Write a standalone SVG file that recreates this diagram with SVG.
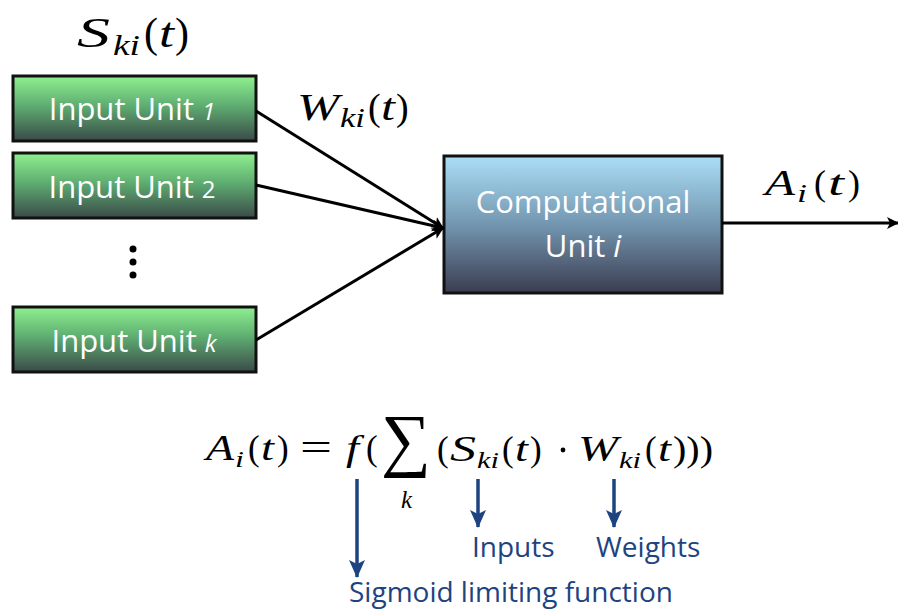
<svg xmlns="http://www.w3.org/2000/svg" width="898" height="614" viewBox="0 0 898 614">
<defs>
<linearGradient id="gGreen" x1="0" y1="0" x2="0" y2="1">
<stop offset="0" stop-color="#8ff08f"/>
<stop offset="0.45" stop-color="#5fae72"/>
<stop offset="1" stop-color="#3a4a48"/>
</linearGradient>
<linearGradient id="gBlue" x1="0" y1="0" x2="0" y2="1">
<stop offset="0" stop-color="#abdff7"/>
<stop offset="0.5" stop-color="#7396b0"/>
<stop offset="1" stop-color="#3b3c50"/>
</linearGradient>
<marker id="ah" markerWidth="12" markerHeight="12" refX="11" refY="6" orient="auto" markerUnits="userSpaceOnUse">
<path d="M0,0 L12,6 L0,12 L3,6 Z" fill="#000"/>
</marker>
<marker id="ab" markerWidth="18" markerHeight="16" refX="17" refY="8" orient="auto" markerUnits="userSpaceOnUse">
<path d="M0,0 L18,8 L0,16 L4,8 Z" fill="#1d4480"/>
</marker>
<style>
.box{stroke:#111;stroke-width:3}
.lbl{font-family:"Open Sans","Lato",sans-serif;fill:#fff;font-size:31px;text-anchor:middle}
.m{font-family:"Liberation Serif","DejaVu Serif",serif;fill:#000}
.it{font-style:italic}
.conn{stroke:#000;stroke-width:3;fill:none}
.blue{stroke:#1d4480;stroke-width:3.5;fill:none}
.bt{font-family:"Open Sans","Lato",sans-serif;fill:#1d4480;font-size:28px}
</style>
</defs>

<g id="label-s" class="m" font-size="42">
<text class="it" x="77" y="47" textLength="33" lengthAdjust="spacingAndGlyphs">S</text>
<text class="it" x="113" y="55" font-size="29" textLength="27" lengthAdjust="spacingAndGlyphs">ki</text>
<text x="144" y="47">(</text>
<text class="it" x="159" y="47" textLength="15" lengthAdjust="spacingAndGlyphs">t</text>
<text x="175" y="47">)</text>
</g>

<g id="input1">
<rect class="box" x="13" y="76" width="243" height="65" fill="url(#gGreen)"/>
<text class="lbl" x="132" y="120">Input Unit <tspan font-style="italic" font-size="24">1</tspan></text>
</g>
<g id="input2">
<rect class="box" x="13" y="153" width="243" height="65" fill="url(#gGreen)"/>
<text class="lbl" x="132" y="198">Input Unit <tspan font-size="24">2</tspan></text>
</g>
<g id="dots">
<circle cx="133" cy="249" r="3.5" fill="#000"/>
<circle cx="133" cy="262" r="3.5" fill="#000"/>
<circle cx="133" cy="275" r="3.5" fill="#000"/>
</g>
<g id="inputk">
<rect class="box" x="13" y="307" width="243" height="65" fill="url(#gGreen)"/>
<text class="lbl" x="134" y="352">Input Unit <tspan font-style="italic" font-size="24">k</tspan></text>
</g>

<g id="comp">
<rect class="box" x="444" y="156" width="278" height="137" fill="url(#gBlue)"/>
<text class="lbl" x="583" y="213" font-size="32">Computational</text>
<text class="lbl" x="583" y="257" font-size="32">Unit <tspan font-style="italic">i</tspan></text>
</g>

<g id="label-w" class="m" font-size="38">
<text class="it" x="297" y="120" textLength="42" lengthAdjust="spacingAndGlyphs">W</text>
<text class="it" x="340" y="127" font-size="27" textLength="25" lengthAdjust="spacingAndGlyphs">ki</text>
<text x="368" y="120">(</text>
<text class="it" x="381" y="120" textLength="14" lengthAdjust="spacingAndGlyphs">t</text>
<text x="396" y="120">)</text>
</g>

<g id="label-a" class="m" font-size="36">
<text class="it" x="765" y="195" textLength="30" lengthAdjust="spacingAndGlyphs">A</text>
<text class="it" x="797" y="202" font-size="25" textLength="10" lengthAdjust="spacingAndGlyphs">i</text>
<text x="814" y="195">(</text>
<text class="it" x="828" y="195" textLength="16" lengthAdjust="spacingAndGlyphs">t</text>
<text x="848" y="195">)</text>
</g>

<g id="connectors">
<line class="conn" x1="256" y1="111" x2="443" y2="228" marker-end="url(#ah)"/>
<line class="conn" x1="256" y1="185" x2="443" y2="228" marker-end="url(#ah)"/>
<line class="conn" x1="256" y1="340" x2="443" y2="228" marker-end="url(#ah)"/>
<line class="conn" x1="722" y1="223" x2="898" y2="223" marker-end="url(#ah)"/>
</g>

<g id="equation" class="m" font-size="35">
<text class="it" x="206" y="460" textLength="28" lengthAdjust="spacingAndGlyphs">A</text>
<text class="it" x="235" y="467" font-size="24" textLength="9" lengthAdjust="spacingAndGlyphs">i</text>
<text x="248" y="460">(</text>
<text class="it" x="261" y="460" textLength="13" lengthAdjust="spacingAndGlyphs">t</text>
<text x="277" y="460">)</text>
<text x="300" y="460" font-size="38" textLength="32" lengthAdjust="spacingAndGlyphs">=</text>
<text class="it" x="346" y="460" textLength="13" lengthAdjust="spacingAndGlyphs">f</text>
<text x="366" y="460">(</text>
<text x="381" y="463" font-size="70">∑</text>
<text class="it" x="401" y="508" font-size="25">k</text>
<text x="437" y="461">(</text>
<text class="it" x="450" y="461" textLength="26" lengthAdjust="spacingAndGlyphs">S</text>
<text class="it" x="477" y="468" font-size="24" textLength="22" lengthAdjust="spacingAndGlyphs">ki</text>
<text x="502" y="461">(</text>
<text class="it" x="515" y="461" textLength="13" lengthAdjust="spacingAndGlyphs">t</text>
<text x="530" y="461">)</text>
<circle cx="563" cy="450" r="2.4" fill="#000"/>
<text class="it" x="578" y="461" textLength="40" lengthAdjust="spacingAndGlyphs">W</text>
<text class="it" x="619" y="468" font-size="24" textLength="22" lengthAdjust="spacingAndGlyphs">ki</text>
<text x="645" y="461">(</text>
<text class="it" x="658" y="461" textLength="13" lengthAdjust="spacingAndGlyphs">t</text>
<text x="673" y="461" textLength="40" lengthAdjust="spacingAndGlyphs">)))</text>
</g>

<g id="annotations">
<line class="blue" x1="357" y1="479" x2="357" y2="577" marker-end="url(#ab)"/>
<line class="blue" x1="478" y1="479" x2="478" y2="527" marker-end="url(#ab)"/>
<line class="blue" x1="614" y1="479" x2="614" y2="527" marker-end="url(#ab)"/>
<text class="bt" x="472" y="557">Inputs</text>
<text class="bt" x="596" y="557">Weights</text>
<text class="bt" x="349" y="602">Sigmoid limiting function</text>
</g>
</svg>
